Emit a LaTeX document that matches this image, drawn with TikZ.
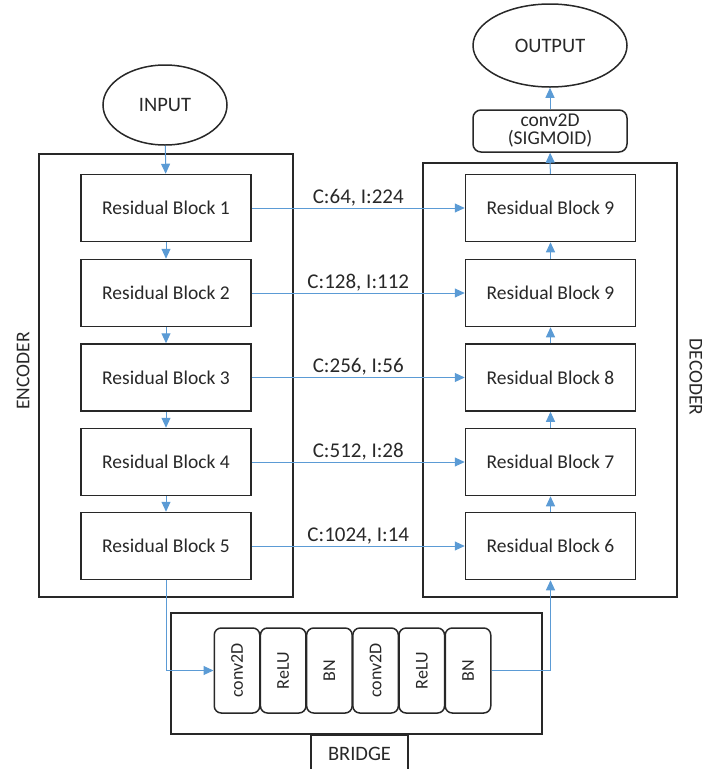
\documentclass[tikz,border=0pt]{standalone}
\usepackage{fontspec}
\setmainfont{Carlito}
\usepackage{tikz}
\usetikzlibrary{arrows.meta, shapes.geometric}
\usepackage{xcolor}
\definecolor{linkblue}{RGB}{91,155,213}
\definecolor{inkgray}{RGB}{40,40,40}

\begin{document}
\begin{tikzpicture}[x=1pt, y=-1pt,
  block/.style={rectangle, draw=inkgray, line width=1.5pt, minimum width=170pt,
                minimum height=67pt, inner sep=0pt, text=inkgray,
                font=\fontsize{19.5}{22}\selectfont},
  frame/.style={rectangle, draw=inkgray, line width=1.5pt, inner sep=0pt},
  term/.style={ellipse, draw=inkgray, line width=1.5pt, inner sep=0pt, text=inkgray,
               font=\fontsize{20.5}{22}\selectfont},
  layer/.style={rectangle, rounded corners=7pt, draw=inkgray, line width=1.5pt,
                minimum width=45.5pt, minimum height=85pt, inner sep=0pt, text=inkgray,
                font=\fontsize{18}{20}\selectfont},
  tag/.style={text=inkgray, font=\fontsize{19.5}{22}\selectfont, inner sep=0pt},
  link/.style={-{Triangle[length=10pt, width=9pt]}, draw=linkblue, line width=1pt},
  dim/.style={above, inner sep=1.5pt, text=inkgray, font=\fontsize{21}{22}\selectfont},
]
\useasboundingbox (0,0) rectangle (706,769);

% frames
\node[frame, minimum width=254pt, minimum height=443pt] (encoder) at (166, 375.5) {};
\node[frame, minimum width=254pt, minimum height=434pt] (decoder) at (550, 380) {};
\node[frame, minimum width=371pt, minimum height=121pt] (bridge)  at (356.5, 673.5) {};
\node[tag, rotate=90]  (enclabel) at (23, 371) {ENCODER};
\node[tag, rotate=-90] (declabel) at (696, 377) {DECODER};
\node[frame, minimum width=97pt, minimum height=38pt, text=inkgray,
      font=\fontsize{20.5}{22}\selectfont] (bridgelabel) at (359.5, 754) {BRIDGE};

% input / output
\node[term, minimum width=124pt, minimum height=80pt] (input)  at (165, 105) {INPUT};
\node[term, minimum width=154pt, minimum height=83pt] (output) at (550, 45.5) {OUTPUT};
\node[block, rounded corners=8pt, minimum width=154pt, minimum height=42pt, align=center,
      font=\fontsize{19.5}{18}\selectfont] (sigmoid) at (550, 131) {conv2D\\(SIGMOID)};

% encoder blocks
\node[block] (enc1) at (166, 208)   {Residual Block 1};
\node[block] (enc2) at (166, 293)   {Residual Block 2};
\node[block] (enc3) at (166, 377.5) {Residual Block 3};
\node[block] (enc4) at (166, 462)   {Residual Block 4};
\node[block] (enc5) at (166, 546)   {Residual Block 5};

% decoder blocks
\node[block] (dec1) at (550.5, 208)   {Residual Block 9};
\node[block] (dec2) at (550.5, 293)   {Residual Block 9};
\node[block] (dec3) at (550.5, 377.5) {Residual Block 8};
\node[block] (dec4) at (550.5, 462)   {Residual Block 7};
\node[block] (dec5) at (550.5, 546)   {Residual Block 6};

% bridge layers
\node[layer] (conva) at (237,   670.5) {\rotatebox{90}{conv2D}};
\node[layer] (relua) at (283.2, 670.5) {\rotatebox{90}{ReLU}};
\node[layer] (bna)   at (329.4, 670.5) {\rotatebox{90}{BN}};
\node[layer] (convb) at (375.6, 670.5) {\rotatebox{90}{conv2D}};
\node[layer] (relub) at (421.8, 670.5) {\rotatebox{90}{ReLU}};
\node[layer] (bnb)   at (468,   670.5) {\rotatebox{90}{BN}};

% connectors
\draw[link] (input) -- (enc1);
\draw[link] (enc1) -- (enc2);
\draw[link] (enc2) -- (enc3);
\draw[link] (enc3) -- (enc4);
\draw[link] (enc4) -- (enc5);
\draw[link] (enc5.south) |- (conva.west);
\draw[link] (bnb.east) -| (dec5.south);
\draw[link] (dec5) -- (dec4);
\draw[link] (dec4) -- (dec3);
\draw[link] (dec3) -- (dec2);
\draw[link] (dec2) -- (dec1);
\draw[link] (dec1) -- (sigmoid);
\draw[link] (sigmoid) -- (output);
\draw[link] (enc1.east) -- (dec1.west) node[midway, dim] {C:64, I:224};
\draw[link] (enc2.east) -- (dec2.west) node[midway, dim] {C:128, I:112};
\draw[link] (enc3.east) -- (dec3.west) node[midway, dim] {C:256, I:56};
\draw[link] (enc4.east) -- (dec4.west) node[midway, dim] {C:512, I:28};
\draw[link] (enc5.east) -- (dec5.west) node[midway, dim] {C:1024, I:14};
\end{tikzpicture}
\end{document}
